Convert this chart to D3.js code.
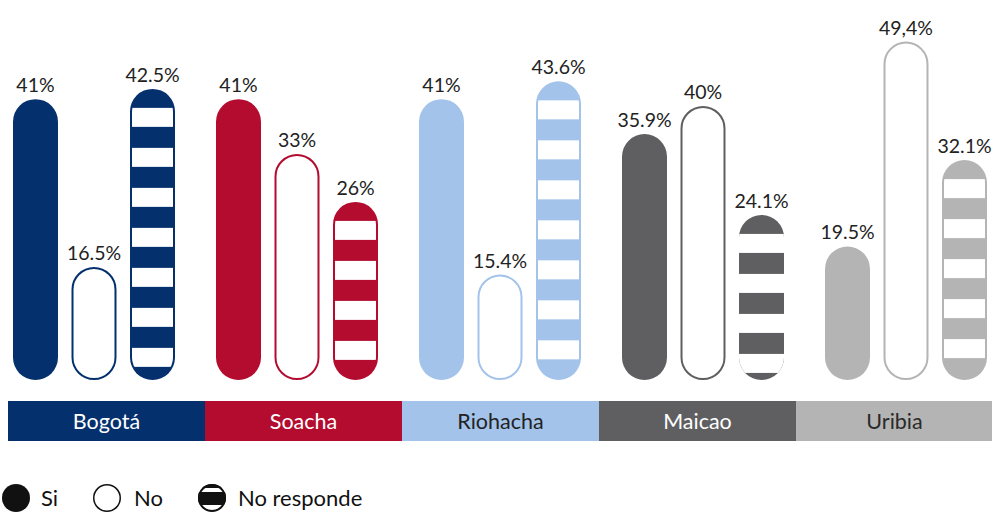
<!DOCTYPE html>
<html>
<head>
<meta charset="utf-8">
<script src="https://cdn.jsdelivr.net/npm/d3@7"></script>
<style>
  html, body { margin: 0; padding: 0; background: #ffffff; }
  svg { display: block; }
  text { font-family: Lato, "Open Sans", sans-serif; }
</style>
</head>
<body>
<svg id="chart" width="992" height="516"></svg>
<script>
// ---- data ----
const cities = ["Bogotá", "Soacha", "Riohacha", "Maicao", "Uribia"];
const cityColors = ["#05306e", "#b30c2f", "#a3c3ea", "#5f5f61", "#b4b4b4"];
const bandTextColors = ["#ffffff", "#ffffff", "#222222", "#ffffff", "#2a2a2a"];
const series = ["Si", "No", "No responde"];
const siValues = [41, 41, 41, 35.9, 19.5];
const noValues = [16.5, 33, 15.4, 40, 49.4];
const nrValues = [42.5, 26, 43.6, 24.1, 32.1];
const siLabels = ["41%", "41%", "41%", "35.9%", "19.5%"];
const noLabels = ["16.5%", "33%", "15.4%", "40%", "49,4%"];
const nrLabels = ["42.5%", "26%", "43.6%", "24.1%", "32.1%"];
const nrOutlined = [true, true, true, false, true];

const svg = d3.select("#chart");
const baseline = 380;

const y = d3.scaleLinear().domain([0, 50]).range([baseline, baseline - 342.5]);
const xGroup = d3.scaleBand().domain(cities).range([13, 13 + 5 * 203]).padding(0);
const xInner = d3.scaleBand().domain(series).range([0, 162]).paddingInner(0.231).paddingOuter(0);
const xBand = d3.scaleBand().domain(cities).range([8, 993]).padding(0);

const bw = xInner.bandwidth();
const r = bw / 2;

const rows = [];
cities.forEach((c, i) => {
  rows.push({ city: c, i, s: "Si", v: siValues[i], label: siLabels[i] });
  rows.push({ city: c, i, s: "No", v: noValues[i], label: noLabels[i] });
  rows.push({ city: c, i, s: "No responde", v: nrValues[i], label: nrLabels[i] });
});

const defs = svg.append("defs");
const g = svg.append("g");

rows.forEach((d, k) => {
  const x0 = xGroup(d.city) + xInner(d.s);
  const top = y(d.v);
  const h = baseline - top;
  const col = cityColors[d.i];
  if (d.s === "Si") {
    g.append("rect").attr("x", x0).attr("y", top).attr("width", bw).attr("height", h)
      .attr("rx", r).attr("ry", r).attr("fill", col);
  } else if (d.s === "No") {
    g.append("rect").attr("x", x0 + 1).attr("y", top + 1).attr("width", bw - 2).attr("height", h - 2)
      .attr("rx", r - 1).attr("ry", r - 1).attr("fill", "#ffffff").attr("stroke", col).attr("stroke-width", 2);
  } else {
    const outlined = nrOutlined[d.i];
    const inset = outlined ? 2 : 0;
    const cid = "clip" + k;
    defs.append("clipPath").attr("id", cid).append("rect")
      .attr("x", x0 + inset).attr("y", top + inset).attr("width", bw - 2 * inset).attr("height", h - 2 * inset)
      .attr("rx", r - inset).attr("ry", r - inset);
    g.append("rect").attr("x", x0).attr("y", top).attr("width", bw).attr("height", h)
      .attr("rx", r).attr("ry", r).attr("fill", col);
    const stripes = [];
    for (let sy = top + 19; sy + 19 <= baseline - 5; sy += 40) stripes.push(sy);
    g.append("g").attr("clip-path", `url(#${cid})`)
      .selectAll("rect").data(stripes).join("rect")
      .attr("x", x0 - 2).attr("y", s => s).attr("width", bw + 4).attr("height", 19)
      .attr("fill", "#ffffff");
  }
  g.append("text").attr("x", x0 + bw / 2).attr("y", top - 7)
    .attr("text-anchor", "middle").attr("font-size", 19.5).attr("fill", "#222222")
    .text(d.label);
});

// category bands
const bands = svg.append("g");
bands.selectAll("rect").data(cities).join("rect")
  .attr("x", c => xBand(c)).attr("y", 401).attr("width", xBand.bandwidth()).attr("height", 40)
  .attr("fill", (c, i) => cityColors[i]);
bands.selectAll("text").data(cities).join("text")
  .attr("x", c => xBand(c) + xBand.bandwidth() / 2).attr("y", 428.5)
  .attr("text-anchor", "middle").attr("font-size", 21.5)
  .attr("fill", (c, i) => bandTextColors[i]).text(c => c);

// legend
const leg = svg.append("g");
const lr = 14, ly = 498;
leg.append("circle").attr("cx", 16).attr("cy", ly).attr("r", lr).attr("fill", "#111111");
leg.append("text").attr("x", 41).attr("y", 506).attr("font-size", 22).attr("fill", "#111").text("Si");
leg.append("circle").attr("cx", 107).attr("cy", ly).attr("r", lr - 0.75).attr("fill", "#fff")
  .attr("stroke", "#111").attr("stroke-width", 1.5);
leg.append("text").attr("x", 134).attr("y", 506).attr("font-size", 22).attr("fill", "#111").text("No");
defs.append("clipPath").attr("id", "legclip").append("circle").attr("cx", 212).attr("cy", ly).attr("r", lr);
leg.append("circle").attr("cx", 212).attr("cy", ly).attr("r", lr - 1).attr("fill", "#fff")
  .attr("stroke", "#111").attr("stroke-width", 2);
leg.append("rect").attr("x", 196).attr("y", ly - 6).attr("width", 32).attr("height", 13)
  .attr("fill", "#111").attr("clip-path", "url(#legclip)");
leg.append("rect").attr("x", 196).attr("y", ly - 16).attr("width", 32).attr("height", 6)
  .attr("fill", "#111").attr("clip-path", "url(#legclip)");
leg.append("text").attr("x", 238).attr("y", 506).attr("font-size", 22).attr("fill", "#111").text("No responde");
</script>
</body>
</html>
